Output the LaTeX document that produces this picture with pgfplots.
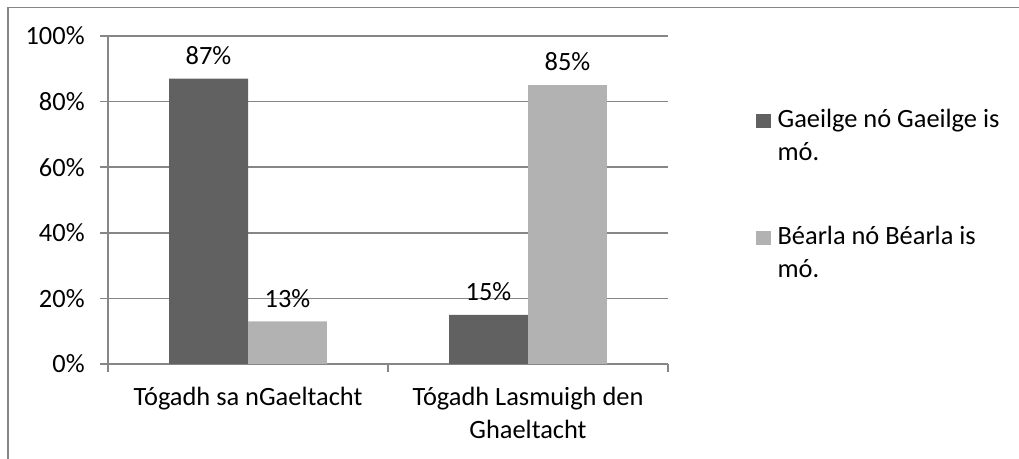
\documentclass[border=0pt]{standalone}
\usepackage{fontspec}
\setmainfont{Carlito}
\usepackage{pgfplots}
\pgfplotsset{compat=1.18}
\definecolor{darkbar}{RGB}{97,97,97}
\definecolor{lightbar}{RGB}{178,178,178}
\definecolor{gridc}{RGB}{134,134,134}
\newcommand{\lblfont}{\fontsize{19.8}{24.5}\selectfont}
\begin{document}
\begin{tikzpicture}
\useasboundingbox (0,0) rectangle (764.25pt,344.25pt);
\draw[gridc, line width=1.1pt] (6pt,0) -- (6pt,338.6pt) -- (764.25pt,338.6pt);
\begin{axis}[
  at={(81pt,71.25pt)}, anchor=south west,
  scale only axis, width=420pt, height=246pt,
  ybar=0pt, bar width=0.282,
  xmin=-0.5, xmax=1.5, ymin=0, ymax=100,
  axis lines*=left,
  axis line style={gridc, line width=1.1pt},
  ymajorgrids, grid style={gridc, line width=1.1pt},
  ytick={0,20,40,60,80,100},
  yticklabel={\pgfmathprintnumber{\tick}\%},
  /pgf/number format/assume math mode=true,
  xtick={0,1},
  xticklabels={T\'ogadh sa nGaeltacht, T\'ogadh Lasmuigh den\\Ghaeltacht},
  x tick label style={align=center, yshift=-8pt},
  y tick label style={xshift=-8pt},
  minor xtick={-0.5,0.5,1.5},
  tick align=outside,
  major tick length=6pt, minor tick length=6pt,
  major x tick style={draw=none},
  minor x tick style={gridc, line width=1.1pt},
  ytick style={gridc, line width=1.1pt},
  tick label style={font=\lblfont, text=black},
  nodes near coords={\pgfmathprintnumber{\pgfplotspointmeta}\%},
  nodes near coords style={font=\lblfont, text=black, yshift=7pt},
  legend style={at={(1.150,0.790)}, anchor=north west, draw=none, fill=none,
    font=\lblfont, row sep=46pt, nodes={align=left, inner sep=1pt},
    /tikz/every odd column/.append style={column sep=4pt}},
  legend cell align=left,
]
\addplot[fill=darkbar, draw=none, bar shift=-0.141,
  legend image code/.code={\fill[darkbar] (0pt,5.5pt) rectangle (11pt,16.5pt);}]
  coordinates {(0,87) (1,15)};
\addplot[fill=lightbar, draw=none, bar shift=0.141,
  legend image code/.code={\fill[lightbar] (0pt,5.5pt) rectangle (11pt,16.5pt);}]
  coordinates {(0,13) (1,85)};
\legend{Gaeilge n\'o Gaeilge is\\m\'o., B\'earla n\'o B\'earla is\\m\'o.}
\end{axis}
\end{tikzpicture}
\end{document}
